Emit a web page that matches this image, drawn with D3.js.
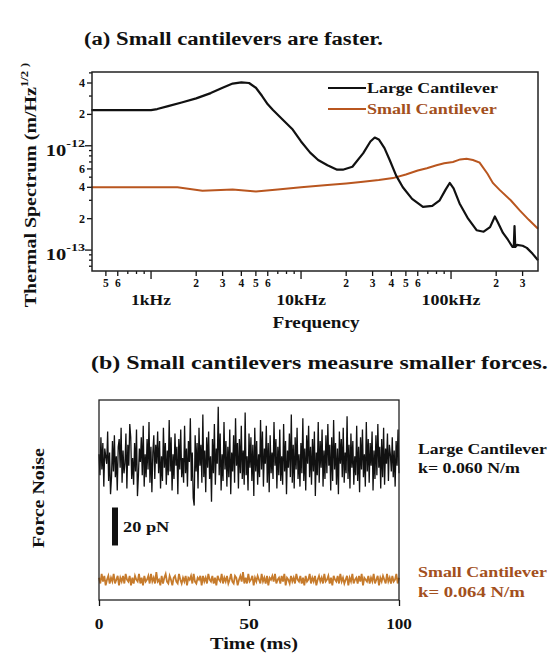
<!DOCTYPE html>
<html><head><meta charset="utf-8">
<script src="https://cdn.jsdelivr.net/npm/d3@7"></script>
<style>
body{margin:0;background:#fff;}
svg text{font-family:"Liberation Serif","Times New Roman",serif;font-weight:bold;}
</style></head>
<body><svg id="c" width="553" height="653"></svg>
<script>
// ---------- DATA (panel a) ----------
const largeFreq = [400,600,800,1000,1100,1300,1600,2000,2500,3000,3500,4000,4500,5000,5500,6000,6500,7500,8800,10000,11500,13000,15000,17400,19000,22000,26000,29000,31000,33000,36000,39000,43000,47700,55000,65000,75000,84000,92000,98000,104000,114000,130000,148000,165000,182000,196000,205000,222000,240000,257000,262000,265000,268000,275000,300000,320000,350000,380000];
const largeVal = [2.2e-12,2.2e-12,2.2e-12,2.2e-12,2.25e-12,2.4e-12,2.6e-12,2.85e-12,3.2e-12,3.6e-12,3.95e-12,4.05e-12,4.0e-12,3.6e-12,3.0e-12,2.5e-12,2.2e-12,1.8e-12,1.43e-12,1.1e-12,8.6e-13,7.3e-13,6.5e-13,5.9e-13,5.9e-13,6.3e-13,8.5e-13,1.1e-12,1.2e-12,1.15e-12,9.5e-13,7.3e-13,5.2e-13,4.0e-13,3.1e-13,2.6e-13,2.65e-13,3.0e-13,3.8e-13,4.4e-13,3.9e-13,2.8e-13,2.0e-13,1.55e-13,1.5e-13,1.66e-13,2.1e-13,1.85e-13,1.46e-13,1.25e-13,1.07e-13,1.07e-13,1.7e-13,1.07e-13,1.12e-13,1.1e-13,1.05e-13,9.2e-14,8e-14];
const smallFreq = [400,1000,1500,2200,3500,5000,7000,10000,15000,20000,25000,33000,41000,50000,60000,69000,80000,90000,103000,115000,127000,140000,155000,175000,190000,210000,250000,287000,330000,380000];
const smallVal = [4.0e-13,4.0e-13,4.0e-13,3.7e-13,3.8e-13,3.65e-13,3.8e-13,4.0e-13,4.2e-13,4.35e-13,4.5e-13,4.7e-13,4.9e-13,5.3e-13,5.8e-13,6.1e-13,6.5e-13,6.8e-13,7.0e-13,7.4e-13,7.5e-13,7.3e-13,6.9e-13,5.4e-13,4.4e-13,3.8e-13,3.0e-13,2.4e-13,1.95e-13,1.6e-13];
const freqLabelTicks = [500,600,2000,3000,4000,5000,6000,20000,30000,40000,50000,60000,200000,300000];
const freqLabelText = ["5","6","2","3","4","5","6","2","3","4","5","6","2","3"];
const decadeTicks = [1000,10000,100000];
const decadeText = ["1kHz","10kHz","100kHz"];
const ampLabelTicks = [4e-12,2e-12,6e-13,4e-13,2e-13];
const ampLabelText = ["4","2","6","4","2"];
const ampDecades = [1e-12,1e-13];
const ampDecadeExp = ["-12","-13"];

// ---------- DATA (panel b) ----------
const largeNoise = [3,-8,12,-5,9,-14,6,2,-2,15,-11,4,-18,-9,10,-6,13,-9,2,-16,7,11,-4,17,-12,5,-7,-2,14,-15,8,-3,19,12,-10,1,-13,9,-6,16,-19,-8,6,-1,12,-8,18,-14,3,-9,11,-5,20,-12,7,-17,4,13,-10,8,-2,15,-7,10,-15,2,-11,17,-4,9,-13,5,-8,21,-6,12,-16,3,-10,14,-3,7,-18,11,-5,16,-9,1,-12,18,-7,6,-14,10,-1,22,-11,4,-20,-24,13,-6,9,-15,17,-3,8,-12,24,-9,5,-17,12,-4,15,-10,2,-22,11,-7,19,-13,6,-2,28,-8,14,-16,3,-11,20,-5,10,-14,7,-9,16,-18,4,-6,13,-12,22,-3,9,-15,11,-7,18,-10,5,-13,25,-8,2,-16,14,-4,12,-11,8,-19,17,-6,10,-13,3,-9,21,-5,15,-14,6,-2,18,-12,9,-17,13,-7,4,-10,20,-3,11,-15,7,-8,16,-11,2,-13,19,-6,10,-18,5,-4,14,-9,24,-12,8,-15,12,-5,17,-10,3,-14,9,-7,22,-11,6,-16,13,-2,18,-9,7,-13,11,-6,15,-19,4,-8,20,-12,10,-4,16,-14,5,-10,13,-7,19,-3,8,-16,12,-11,21,-5,9,-13,6,-18,15,-2,11,-9,17,-12,4,-7,23,-10,8,-15,14,-4,10,-13,2,-8,18,-11,7,-17,12,-5,16,-9,3,-14,20,-6,11,-12,9,-3,15,-16,5,-10,13,-8,19,-4,7,-15,11,-9,17,-13,6,-2,14,-11,8,3,-6,12,-9,5,-14,10,-3,16,-7];
const smallNoise = [1,-2,3,-1,2,-3,0,2,-2,1,-1,3,-2,0,2,-3,1,-1,2,-2,3,0,-1,2,-3,1,-2,2,0,-1,3,-2,1,-3,2,-1,0,2,-2,3,-1,1,-2,4,-1,0,-3,2,-2,1,3,-1,-2,2,0,-3,1,2,-1,-2,3,0,-2,1,-1,2,-3,1,0,2,-2,3,-1,-2,1,0,2,-3,2,-1,1,-2,3,0,-1,2,-2,1,-3,2,0,-1,3,-2,1,-1,2,-2,0,3,-1,-2,2,1,-3,0,2,-1,4,-2,1,-2,3,-1,0,2,-3,1,-1,2,0,-2,3,-1,1,-2,2,-3,1,0,2,-1,3,-2,0,1,-2,2,-1,3,-3,1,0,-2,2,-1,1,-2,3,0,-1,2,-2,1,-3,2,-1,0,3,-2,1,-1,2,-3,0,2,-1,1,-2,3,-1,0,2,-2,1,-3,2,0,-1,2,-2,3,-1,1,-2,0,2,-3,1,-1,3,-2,0,1,-2,2,-1,3,-3,1,0,-1,2,-2,1,-1,3,-2,0,2,-3,1,-1,2,0,-2,3,-1,1,-2,2,-1,0,3,-2,1];
const largeOffset = 0, smallOffset = -63;
const timeTicks = [0,50,100];
const scaleBar = [-25,-45];

// ---------- DRAW ----------
const svg = d3.select("#c");
const BLK = "#111", ORG = "#b9561f", ORG2 = "#c67b2c", ORGT = "#a3501d";

// text helper: place at (x,y), optional rotation, stretched to a target width
function label(txt, x, y, size, width, opts={}) {
  const g = svg.append("g").attr("transform", `translate(${x},${y})${opts.rot?` rotate(${opts.rot})`:""}`);
  const t = g.append("text").attr("font-size", size).attr("text-anchor", opts.anchor||"start").attr("fill", opts.fill||BLK);
  if (typeof txt === "function") txt(t); else t.text(txt);
  if (width) { const w = t.node().getBBox().width; t.attr("transform", `scale(${width/w},1)`); }
  return t;
}

// panel a
const x = d3.scaleLog().domain([404,380000]).range([92,538]);
const y = d3.scaleLog().domain([6.3e-14,5.1e-12]).range([271,72]);

label("(a) Small cantilevers are faster.", 84, 45, 19, 299);

const xMinor = [];
[100,1000,10000,100000].forEach(d=>{for(let k=1;k<10;k++){const v=k*d; if(v>=x.domain()[0]&&v<=x.domain()[1]) xMinor.push(v);}});
const gx = svg.append("g");
gx.selectAll("line").data(xMinor).join("line")
  .attr("x1",d=>x(d)).attr("x2",d=>x(d)).attr("y1",271)
  .attr("y2",d=> decadeTicks.includes(d)?279:(freqLabelTicks.includes(d)?276:274))
  .attr("stroke",BLK).attr("stroke-width",1.3);
freqLabelTicks.forEach((d,i)=>label(freqLabelText[i], x(d), 287, 11.5, null, {anchor:"middle"}));
const decW = [40,50,59];
decadeTicks.forEach((d,i)=>label(decadeText[i], x(d), 305, 15.5, decW[i], {anchor:"middle"}));
label("Frequency", 316, 328, 16.5, 88, {anchor:"middle"});

const yMinor = [];
[1e-14,1e-13,1e-12].forEach(d=>{for(let k=1;k<10;k++){const v=k*d; if(v>=y.domain()[0]&&v<=y.domain()[1]) yMinor.push(v);}});
const near = (arr,d)=>arr.some(v=>Math.abs(v-d)/v<1e-6);
svg.append("g").selectAll("line").data(yMinor).join("line")
  .attr("y1",d=>y(d)).attr("y2",d=>y(d)).attr("x2",92)
  .attr("x1",d=> near(ampDecades,d)?85:(near(ampLabelTicks,d)?87:89))
  .attr("stroke",BLK).attr("stroke-width",1.3);
ampLabelTicks.forEach((d,i)=>label(ampLabelText[i], 85, y(d)+4, 12, null, {anchor:"end"}));
ampDecades.forEach((d,i)=>label(t=>{
  t.append("tspan").text("10");
  t.append("tspan").attr("font-size",11).attr("dy",-9).text(ampDecadeExp[i]);
}, 85, y(d)+10, 16, 40, {anchor:"end"}));
label(t=>{
  t.append("tspan").text("Thermal Spectrum (m/Hz");
  t.append("tspan").attr("font-size",10.5).attr("dy",-8).text("1/2");
  t.append("tspan").attr("font-size",11).attr("dx",3).text(")");
}, 36, 185, 16.5, 245, {anchor:"middle", rot:-90});

const lineA = d3.line().x(d=>x(d[0])).y(d=>y(d[1]));
svg.append("path").datum(smallFreq.map((f,i)=>[f,smallVal[i]])).attr("d",lineA)
  .attr("fill","none").attr("stroke",ORG).attr("stroke-width",2);
svg.append("path").datum(largeFreq.map((f,i)=>[f,largeVal[i]])).attr("d",lineA)
  .attr("fill","none").attr("stroke",BLK).attr("stroke-width",2.2).attr("stroke-linejoin","round");
svg.append("rect").attr("x",92).attr("y",72).attr("width",446).attr("height",199)
  .attr("fill","none").attr("stroke","#222").attr("stroke-width",1.5);

svg.append("line").attr("x1",328).attr("x2",366).attr("y1",88).attr("y2",88).attr("stroke",BLK).attr("stroke-width",2);
svg.append("line").attr("x1",328).attr("x2",366).attr("y1",109).attr("y2",109).attr("stroke",ORG).attr("stroke-width",2);
label("Large Cantilever", 367, 93, 15.5, 131);
label("Small Cantilever", 367, 114, 15.5, 130, {fill:ORGT});

// panel b
label("(b) Small cantilevers measure smaller forces.", 91, 369, 19, 457);
const xb = d3.scaleLinear().domain([0,100]).range([99,399]);
const yb = d3.scaleLinear().domain([-73.7,31.6]).range([600,400]);
const lineB = d3.line().x(d=>xb(d[0])).y(d=>yb(d[1]));
svg.append("path").datum(largeNoise.map((v,i)=>[i*100/(largeNoise.length-1), v+largeOffset])).attr("d",lineB)
  .attr("fill","none").attr("stroke",BLK).attr("stroke-width",1.3);
svg.append("path").datum(smallNoise.map((v,i)=>[i*100/(smallNoise.length-1), v+smallOffset])).attr("d",lineB)
  .attr("fill","none").attr("stroke",ORG2).attr("stroke-width",1.8);
svg.append("rect").attr("x",99).attr("y",400).attr("width",300).attr("height",200)
  .attr("fill","none").attr("stroke","#222").attr("stroke-width",1.3);
svg.append("g").attr("transform","translate(0,600)")
  .call(d3.axisBottom(xb).tickValues(timeTicks).tickSize(6).tickFormat(()=>""))
  .call(g=>{g.select(".domain").remove(); g.selectAll("line").attr("stroke",BLK).attr("stroke-width",1.3);});
const tW = [9,20,26];
timeTicks.forEach((d,i)=>label(String(d), xb(d), 629, 15.5, tW[i], {anchor:"middle"}));
label("Time (ms)", 254, 649, 16.5, 88, {anchor:"middle"});
label("Force Noise", 44, 498, 16.5, 100, {anchor:"middle", rot:-90});
svg.append("rect").attr("x",112).attr("width",6).attr("y",yb(scaleBar[0])).attr("height",yb(scaleBar[1])-yb(scaleBar[0])).attr("fill",BLK);
label("20 pN", 123, 532, 14.5, 47);
label("Large Cantilever", 418, 454, 15.5, 129);
label("k= 0.060 N/m", 418, 473, 15.5, 102);
label("Small Cantilever", 418, 577, 15.5, 129, {fill:ORGT});
label("k= 0.064 N/m", 418, 597, 15.5, 107, {fill:ORGT});
</script></body></html>
